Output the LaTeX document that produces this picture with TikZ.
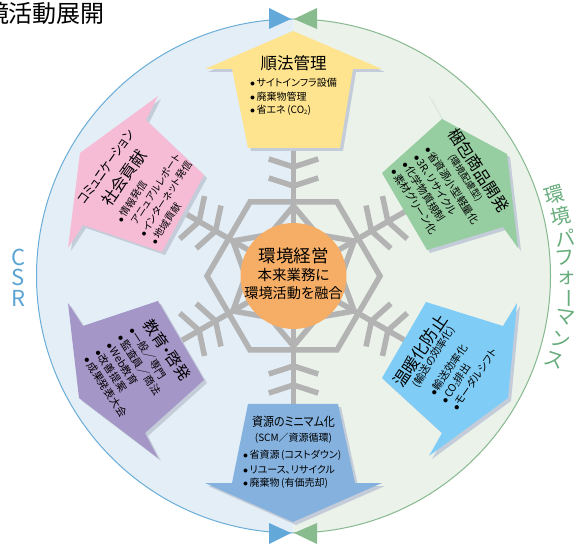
\documentclass[tikz,border=0pt]{standalone}
\usepackage{graphicx}
\usepackage{fontspec}
\setmainfont[RawFeature={+palt}]{Noto Sans CJK JP}
\definecolor{csrfill}{HTML}{E3EEF7}
\definecolor{envfill}{HTML}{EAF2EA}
\definecolor{csrline}{HTML}{6AADD8}
\definecolor{envline}{HTML}{87B98F}
\definecolor{csrtri}{HTML}{62A8D8}
\definecolor{envtri}{HTML}{88BB8E}
\definecolor{flake}{HTML}{B3B3B3}
\definecolor{shadowc}{HTML}{C3CCD8}
\definecolor{yellowc}{HTML}{FEE48F}
\definecolor{pinkc}{HTML}{F6BCD6}
\definecolor{greenc}{HTML}{96CDA1}
\definecolor{skyc}{HTML}{7FCDF6}
\definecolor{purplec}{HTML}{A596C8}
\definecolor{bluec}{HTML}{85B1DE}
\definecolor{orangec}{HTML}{F6AE66}
\definecolor{csrtext}{HTML}{5AA3D3}
\definecolor{envtext}{HTML}{66AC7C}
\newcommand{\fs}[1]{\fontsize{#1}{#1}\selectfont}
\newcommand{\bl}{\makebox[6.5pt][l]{$\bullet$}}
\newcommand{\bs}{\hspace*{6.5pt}}
\newcommand{\cotwo}{CO\raisebox{-0.5pt}{\fontsize{6}{6}\selectfont 2}}
\tikzset{
  x=1pt,y=-1pt,
  spoke/.style={draw=flake,line width=5.5pt},
  hexa/.style={draw=flake,line width=5.5pt,line join=miter},
  cast/.style={fill=shadowc,shift={(3,3)}},
  txt/.style={inner sep=0pt,outer sep=0pt,text=black},
  listn/.style={txt,align=left,anchor=west},
  glyph/.style={inner sep=0pt,text=envtext,font=\fs{20}},
}
\begin{document}
\begin{tikzpicture}
\useasboundingbox (0,0) rectangle (576,545);
\coordinate (c) at (293.5,276);
% half discs
\begin{scope}
  \clip (0,0) rectangle (293.5,545);
  \fill[csrfill,draw=csrline,line width=1pt] (c) circle[radius=257pt];
\end{scope}
\begin{scope}
  \clip (293.5,0) rectangle (576,545);
  \fill[envfill,draw=envline,line width=1pt] (c) circle[radius=257pt];
\end{scope}
% end triangles
\fill[csrtri] (269,8) -- (269,29) -- (291,19) -- cycle;
\fill[envtri] (317,8) -- (317,29) -- (294,19) -- cycle;
\fill[csrtri] (269,523) -- (269,544) -- (291,533) -- cycle;
\fill[envtri] (317,523) -- (317,544) -- (294,533) -- cycle;
% snowflake
\draw[hexa] (207,276) -- (250,202) -- (337,202) -- (380,276) -- (337,350) -- (250,350) -- cycle;
\foreach \a in {30,90,150,210,270,330}{
  \begin{scope}[shift={(c)},rotate=\a]
    \draw[spoke] (0,0) -- (140,0);
    \draw[spoke] (70,0) ++(140:40) -- (70,0) -- ++(-140:40);
    \draw[spoke] (90,0) ++(72:26) -- (90,0) -- ++(-72:26);
    \draw[spoke] (109,0) ++(72:26) -- (109,0) -- ++(-72:26);
  \end{scope}
}
% centre
\node[circle,fill=orangec,minimum size=106pt,inner sep=0pt] (core) at (c) {};
\node[txt,font=\fs{17.5}] (coreA) at (293.5,256) {環境経営};
\node[txt,font=\fs{14.5}] (coreB) at (293.5,275) {本来業務に};
\node[txt,font=\fs{14.2}] (coreC) at (293.5,293) {環境活動を融合};
% houses
\def\yel{(293,31) -- (382,69) -- (353,69) -- (340,148) -- (248,148) -- (232,69) -- (205,69) -- cycle}
\def\blu{(248,404) -- (338,404) -- (355,483) -- (382,483) -- (293,522) -- (205,483) -- (232,483) -- cycle}
\def\pin{(80,153) -- (158,96) -- (146,120) -- (204,175) -- (162,252) -- (83,225) -- (68,248) -- cycle}
\def\gre{(429,96) -- (442,119) -- (507,154) -- (518,248) -- (503,227) -- (427,250) -- (382,173) -- (442,119) -- cycle}
\def\sky{(426,302) -- (503,326) -- (517,303) -- (508,398) -- (429,456) -- (442,433) -- (382,378) -- cycle}
\def\pur{(158,301) -- (83,326) -- (68,303) -- (79,398) -- (158,458) -- (145,433) -- (204,380) -- cycle}
\fill[cast] \yel;
\fill[cast] \blu;
\fill[cast] \pin;
\fill[cast] \gre;
\fill[cast] \sky;
\fill[cast] \pur;
\fill[yellowc] \yel;
\fill[bluec] \blu;
\fill[pinkc] \pin;
\fill[greenc] \gre;
\fill[skyc] \sky;
\fill[purplec] \pur;
% yellow
\node[txt,font=\fs{16.5}] (yT) at (293.5,63) {順法管理};
\node[listn,font=\fs{10},text width=100pt] (yL) at (250,97) {\bl サイトインフラ設備\\[3.5pt]\bl 廃棄物管理\\[3.5pt]\bl 省エネ\,(\cotwo)};
% blue
\node[txt,font=\fs{12.5}] (bT) at (293.5,422) {\scalebox{0.88}[1]{資源のミニマム化}};
\node[txt,font=\fs{10}] (bS) at (293.5,438) {(SCM／資源循環)};
\node[listn,font=\fs{10},text width=110pt] (bL) at (243,469.5) {\bl 省資源\,(コストダウン)\\[3.5pt]\bl リユース、リサイクル\\[3.5pt]\bl 廃棄物\,(有価売却)};
% pink
\node[txt,font=\fs{13.5},rotate=55] (pT) at (106,167) {\scalebox{0.8}[1]{コミュニケーション}};
\node[txt,font=\fs{16},rotate=55] (pS) at (124,178) {社会貢献};
\node[listn,font=\fs{10},rotate=57,text width=100pt] (pL) at (136,232) {\bl 情報発信\\[3.5pt]\bs アニュアルレポート\\[3.5pt]\bl インターネット発信\\[3.5pt]\bl 地域貢献};
% green
\node[txt,font=\fs{16},rotate=-57] (gT) at (479,170) {梱包商品開発};
\node[txt,font=\fs{9.5},rotate=-57] (gS) at (465,178) {(環境配慮型)};
\node[listn,font=\fs{10.5},rotate=-57,text width=100pt] (gL) at (410.5,158.5) {\bl 省資源小型軽量化\\[3pt]\bl 3R、リサイクル\\[3pt]\bl 化学物質規制\\[3pt]\bl 素材グリーン化};
% sky
\node[txt,font=\fs{16.5},rotate=56] (sT) at (420,351) {温暖化防止};
\node[txt,font=\fs{10.5},rotate=58] (sS) at (434,357) {(輸送の効率化)};
\node[listn,font=\fs{10.5},rotate=56,text width=100pt] (sL) at (443,402) {\bl 輸送効率化\\[3pt]\bl \cotwo 排出\\[3pt]\bl モーダルシフト};
% purple
\node[txt,font=\fs{15.5},rotate=-55] (uT) at (167,350) {教育・啓発};
\node[listn,font=\fs{10.5},rotate=-57,text width=100pt] (uL) at (109,343) {\bl 一般／専門\\[3pt]\bl 監査員／商法\\[3pt]\bl Web教育\\[3pt]\bl 改善提案\\[3pt]\bl 成果発表大会};
% side labels
\node[txt,text=csrtext,font=\fs{22},align=center] (csr) at (18.5,277.5) {C\\[-1.5pt]S\\[-1.5pt]R};
\node[glyph,rotate=15] (e1) at (554,195) {環};
\node[glyph,rotate=12] (e2) at (561,216) {境};
\node[glyph,rotate=8] (e3) at (565,238) {パ};
\node[glyph,rotate=5] (e4) at (565,258) {フ};
\node[glyph] (e5) at (567,278) {ォ};
\node[glyph,rotate=-90] (e6) at (566,298) {ー};
\node[glyph,rotate=-8] (e7) at (565,318) {マ};
\node[glyph,rotate=-12] (e8) at (561,340) {ン};
\node[glyph,rotate=-18] (e9) at (554,360) {ス};
% title
\node[txt,font=\fs{24},anchor=east] (title) at (105,13) {境活動展開};
\end{tikzpicture}
\end{document}
